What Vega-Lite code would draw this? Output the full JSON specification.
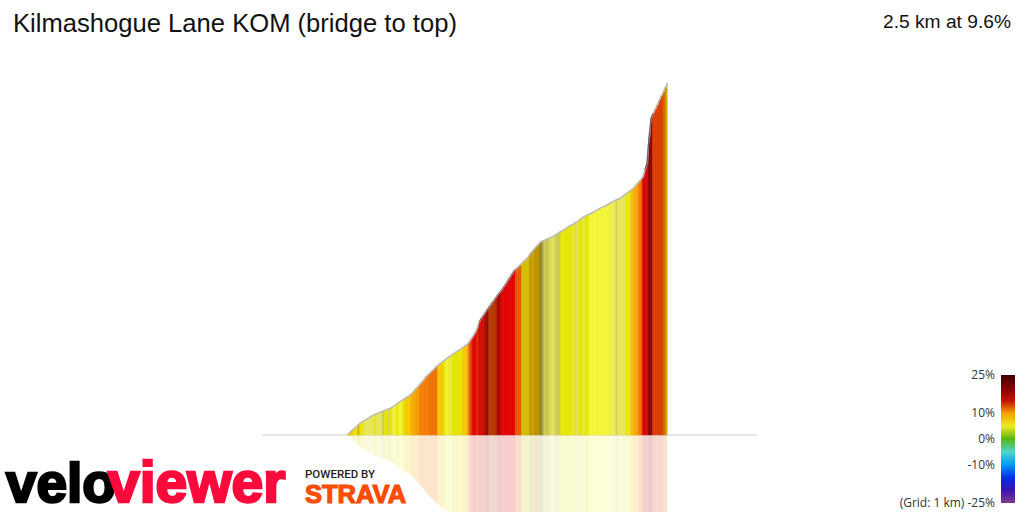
{
  "$schema": "https://vega.github.io/schema/vega-lite/v6.json",
  "width": 1024,
  "height": 512,
  "padding": 0,
  "autosize": {"type": "none"},
  "background": "white",
  "view": {"stroke": null},
  "datasets": {
    "profile": [
      {"d":0,"d2":16,"e":0.6,"g":8.5},{"d":16,"d2":32,"e":1.9,"g":8.5},{"d":32,"d2":48,"e":3.1,"g":8.5},{"d":48,"d2":64,"e":4.4,"g":5.5},{"d":64,"d2":80,"e":5.6,"g":5.5},
      {"d":80,"d2":96,"e":6.9,"g":8},{"d":96,"d2":112,"e":8.2,"g":5.5},{"d":112,"d2":128,"e":9.0,"g":5.5},{"d":128,"d2":144,"e":9.9,"g":3.5},{"d":144,"d2":160,"e":10.7,"g":3.5},
      {"d":160,"d2":176,"e":11.5,"g":3.5},{"d":176,"d2":192,"e":12.4,"g":3.5},{"d":192,"d2":208,"e":13.2,"g":3.5},{"d":208,"d2":224,"e":13.9,"g":5.5},{"d":224,"d2":240,"e":14.4,"g":3.5},
      {"d":240,"d2":256,"e":15,"g":3.5},{"d":256,"d2":272,"e":15.6,"g":3.5},{"d":272,"d2":288,"e":16.1,"g":2.8},{"d":288,"d2":304,"e":16.7,"g":5.5},{"d":304,"d2":320,"e":17.3,"g":5.5},
      {"d":320,"d2":336,"e":17.8,"g":3},{"d":336,"d2":352,"e":18.4,"g":5.5},{"d":352,"d2":368,"e":19.3,"g":4},{"d":368,"d2":384,"e":20.1,"g":4.7},{"d":384,"d2":400,"e":21.4,"g":5.5},
      {"d":400,"d2":416,"e":22.4,"g":4.7},{"d":416,"d2":432,"e":23.3,"g":4.7},{"d":432,"d2":448,"e":24.1,"g":5.5},{"d":448,"d2":464,"e":25,"g":8.5},{"d":464,"d2":480,"e":25.9,"g":8.5},
      {"d":480,"d2":496,"e":26.8,"g":8.5},{"d":496,"d2":512,"e":28,"g":9.5},{"d":512,"d2":528,"e":29.6,"g":9.5},{"d":528,"d2":544,"e":31.2,"g":10},{"d":544,"d2":560,"e":32.7,"g":10},
      {"d":560,"d2":576,"e":34.3,"g":11},{"d":576,"d2":592,"e":35.9,"g":11},{"d":592,"d2":608,"e":37.4,"g":11},{"d":608,"d2":624,"e":39.5,"g":11},{"d":624,"d2":640,"e":40.8,"g":11},
      {"d":640,"d2":656,"e":42.2,"g":11.3},{"d":656,"d2":672,"e":43.5,"g":11.3},{"d":672,"d2":688,"e":44.9,"g":11.3},{"d":688,"d2":704,"e":46.3,"g":11.3},{"d":704,"d2":720,"e":47.5,"g":8.5},
      {"d":720,"d2":736,"e":48.6,"g":8.5},{"d":736,"d2":752,"e":49.7,"g":8.5},{"d":752,"d2":768,"e":50.7,"g":5.5},{"d":768,"d2":784,"e":51.8,"g":4.5},{"d":784,"d2":800,"e":52.9,"g":5},
      {"d":800,"d2":816,"e":53.7,"g":3.5},{"d":816,"d2":832,"e":54.8,"g":5.5},{"d":832,"d2":848,"e":55.7,"g":5.5},{"d":848,"d2":864,"e":56.7,"g":5.5},{"d":864,"d2":880,"e":57.6,"g":5.5},
      {"d":880,"d2":896,"e":58.5,"g":5.5},{"d":896,"d2":912,"e":59.5,"g":8.5},{"d":912,"d2":928,"e":60.5,"g":8.5},{"d":928,"d2":944,"e":61.4,"g":9},{"d":944,"d2":960,"e":62.9,"g":11.5},
      {"d":960,"d2":976,"e":65,"g":13},{"d":976,"d2":992,"e":67,"g":14},{"d":992,"d2":1008,"e":69.4,"g":14},{"d":1008,"d2":1024,"e":72.4,"g":13.5},{"d":1024,"d2":1040,"e":76.9,"g":14.5},
      {"d":1040,"d2":1056,"e":79.3,"g":14},{"d":1056,"d2":1072,"e":81.3,"g":15},{"d":1072,"d2":1088,"e":83.3,"g":17},{"d":1088,"d2":1104,"e":85.4,"g":18},{"d":1104,"d2":1120,"e":87.4,"g":16},
      {"d":1120,"d2":1136,"e":89.4,"g":16},{"d":1136,"d2":1152,"e":91.2,"g":16},{"d":1152,"d2":1168,"e":93.2,"g":15.5},{"d":1168,"d2":1184,"e":95.2,"g":17},{"d":1184,"d2":1200,"e":96.9,"g":17},
      {"d":1200,"d2":1216,"e":98.6,"g":14},{"d":1216,"d2":1232,"e":100.7,"g":14},{"d":1232,"d2":1248,"e":102.7,"g":14},{"d":1248,"d2":1264,"e":105,"g":14},{"d":1264,"d2":1280,"e":107.2,"g":14},
      {"d":1280,"d2":1296,"e":109.4,"g":14},{"d":1296,"d2":1312,"e":111.6,"g":14},{"d":1312,"d2":1328,"e":112.9,"g":12},{"d":1328,"d2":1344,"e":114.3,"g":12},{"d":1344,"d2":1360,"e":115.6,"g":12},
      {"d":1360,"d2":1376,"e":117,"g":6.5},{"d":1376,"d2":1392,"e":118.4,"g":6.5},{"d":1392,"d2":1408,"e":119.7,"g":6.5},{"d":1408,"d2":1424,"e":121.1,"g":6.5},{"d":1424,"d2":1440,"e":123.5,"g":7.5},
      {"d":1440,"d2":1456,"e":125,"g":7},{"d":1456,"d2":1472,"e":126.5,"g":7.5},{"d":1472,"d2":1488,"e":128.2,"g":7.5},{"d":1488,"d2":1504,"e":129.7,"g":7.5},{"d":1504,"d2":1520,"e":131.3,"g":1.5},
      {"d":1520,"d2":1536,"e":132,"g":2.2},{"d":1536,"d2":1552,"e":132.5,"g":2.8},{"d":1552,"d2":1568,"e":133.2,"g":2.5},{"d":1568,"d2":1584,"e":133.8,"g":3},{"d":1584,"d2":1600,"e":134.4,"g":3.3},
      {"d":1600,"d2":1616,"e":135,"g":3.5},{"d":1616,"d2":1632,"e":135.8,"g":3},{"d":1632,"d2":1648,"e":136.7,"g":2.8},{"d":1648,"d2":1664,"e":137.6,"g":2.8},{"d":1664,"d2":1680,"e":138.4,"g":5.5},
      {"d":1680,"d2":1696,"e":139.3,"g":5.2},{"d":1696,"d2":1712,"e":140.1,"g":5.5},{"d":1712,"d2":1728,"e":141.1,"g":5.5},{"d":1728,"d2":1744,"e":141.9,"g":5.5},{"d":1744,"d2":1760,"e":142.7,"g":5.5},
      {"d":1760,"d2":1776,"e":143.5,"g":5.2},{"d":1776,"d2":1792,"e":144.4,"g":3.2},{"d":1792,"d2":1808,"e":145.2,"g":3.5},{"d":1808,"d2":1824,"e":146.1,"g":5.5},{"d":1824,"d2":1840,"e":147.3,"g":5.5},
      {"d":1840,"d2":1856,"e":148.3,"g":3.5},{"d":1856,"d2":1872,"e":149,"g":5.5},{"d":1872,"d2":1888,"e":149.7,"g":5.5},{"d":1888,"d2":1904,"e":150.3,"g":4.5},{"d":1904,"d2":1920,"e":151,"g":4.5},
      {"d":1920,"d2":1936,"e":151.7,"g":4.5},{"d":1936,"d2":1952,"e":152.6,"g":4.5},{"d":1952,"d2":1968,"e":153.3,"g":4.5},{"d":1968,"d2":1984,"e":154.1,"g":4.5},{"d":1984,"d2":2000,"e":154.8,"g":4.5},
      {"d":2000,"d2":2016,"e":155.4,"g":4.5},{"d":2016,"d2":2032,"e":156.1,"g":4.5},{"d":2032,"d2":2048,"e":156.8,"g":4.5},{"d":2048,"d2":2064,"e":157.8,"g":3.7},{"d":2064,"d2":2080,"e":158.5,"g":4.2},
      {"d":2080,"d2":2096,"e":159.2,"g":3.7},{"d":2096,"d2":2112,"e":159.9,"g":3},{"d":2112,"d2":2128,"e":160.5,"g":3.6},{"d":2128,"d2":2144,"e":161.2,"g":3.6},{"d":2144,"d2":2160,"e":162.2,"g":3.6},
      {"d":2160,"d2":2176,"e":163.3,"g":3.6},{"d":2176,"d2":2192,"e":164.4,"g":5.5},{"d":2192,"d2":2208,"e":165.3,"g":5},{"d":2208,"d2":2224,"e":166.5,"g":8.5},{"d":2224,"d2":2240,"e":167.5,"g":9},
      {"d":2240,"d2":2256,"e":168.8,"g":9.5},{"d":2256,"d2":2272,"e":170.5,"g":10},{"d":2272,"d2":2288,"e":172.1,"g":11},{"d":2288,"d2":2304,"e":173.8,"g":11.5},{"d":2304,"d2":2320,"e":175.5,"g":14},
      {"d":2320,"d2":2336,"e":180.3,"g":14},{"d":2336,"d2":2352,"e":185,"g":15},{"d":2352,"d2":2368,"e":202.7,"g":20},{"d":2368,"d2":2384,"e":215.6,"g":19},{"d":2384,"d2":2400,"e":218.7,"g":13},
      {"d":2400,"d2":2416,"e":221.6,"g":13},{"d":2416,"d2":2432,"e":224.5,"g":13},{"d":2432,"d2":2448,"e":227.7,"g":13},{"d":2448,"d2":2464,"e":230.6,"g":13},{"d":2464,"d2":2480,"e":233.3,"g":12},
      {"d":2480,"d2":2496,"e":236.5,"g":7.5},{"d":2496,"d2":2500,"e":239.5,"g":5.5}
    ]
  },
  "resolve": {"scale": {"y": "independent"}, "axis": {"y": "independent"}},
  "layer": [
    {
      "data": {"name": "profile"},
      "mark": {"type": "bar", "binSpacing": 0, "opacity": 0.2, "clip": true},
      "encoding": {
        "x": {"field": "d", "bin": {"binned": true}, "type": "quantitative", "axis": null, "scale": {"domain": [-2710.9, 5289.1], "nice": false, "zero": false}},
        "x2": {"field": "d2"},
        "y": {"field": "e", "type": "quantitative", "axis": null, "scale": {"domain": [-295.9, 52.4], "reverse": true, "nice": false, "zero": false}},
        "color": {"field": "g", "type": "quantitative"}
      }
    },
    {
      "layer": [
        {
          "data": {"values": [{"from": -664, "to": 3203}]},
          "mark": {"type": "rule", "color": "#dddddd", "strokeWidth": 1.5},
          "encoding": {
            "x": {"field": "from", "type": "quantitative"},
            "x2": {"field": "to"},
            "y": {"datum": 0, "type": "quantitative", "axis": null, "scale": {"domain": [-52.4, 295.9], "nice": false, "zero": false}}
          }
        },
        {
          "data": {"name": "profile"},
          "mark": {"type": "bar", "binSpacing": 0, "strokeWidth": 0.6, "stroke": {"expr": "scale('color', datum.g)"}},
          "encoding": {
            "x": {"field": "d", "bin": {"binned": true}, "type": "quantitative"},
            "x2": {"field": "d2"},
            "y": {"field": "e", "type": "quantitative"},
            "color": {
              "field": "g",
              "type": "quantitative",
              "scale": {
                "domain": [-25, -20, -16, -11, -7.5, -3, -0.5, 1.5, 2.5, 3.5, 4.5, 5.5, 6.5, 7.5, 8.5, 10, 11, 12, 13, 14, 15, 16, 17, 19, 25],
                "range": ["#7d3a8c", "#3c14b4", "#0000e0", "#0078e8", "#00e6f0", "#64c8b4", "#10c820", "#85852f", "#c4c050", "#e6e65a", "#f4f535", "#e6e600", "#d2bc00", "#c09000", "#f5c800", "#f5a000", "#f57c00", "#e25a00", "#dc3c00", "#e00000", "#c81000", "#b43c00", "#a80a00", "#900000", "#3c0000"]
              },
              "legend": {
                "type": "gradient",
                "orient": "none",
                "legendX": 1001,
                "legendY": 375,
                "title": null,
                "direction": "vertical",
                "gradientLength": 128,
                "gradientThickness": 14,
                "gradientStrokeWidth": 0,
                "values": [-25, -10, 0, 10, 25],
                "labelExpr": "datum.value == -25 ? '(Grid: 1 km) -25%' : datum.value + '%'",
                "labelOffset": -20,
                "labelFont": "Open Sans",
                "labelFontSize": 12,
                "labelColor": "#333333",
                "labelOverlap": false,
                "encode": {
                  "gradient": {"update": {"opacity": {"value": 1}}},
                  "labels": {"update": {"align": {"value": "right"}, "baseline": {"value": "middle"}}}
                }
              }
            }
          }
        },
        {
          "data": {"name": "profile"},
          "mark": {"type": "line", "color": "#bbbbbb", "strokeWidth": 1.5, "xOffset": 1},
          "encoding": {
            "x": {"field": "d", "type": "quantitative"},
            "y": {"field": "e", "type": "quantitative"}
          }
        },
        {
          "data": {"name": "profile"},
          "transform": [{"filter": "datum.d >= 1024 && datum.d <= 1312"}],
          "mark": {"type": "line", "color": "#777777", "strokeWidth": 1, "xOffset": 1},
          "encoding": {
            "x": {"field": "d", "type": "quantitative"},
            "y": {"field": "e", "type": "quantitative"}
          }
        },
        {
          "data": {"name": "profile"},
          "transform": [{"filter": "datum.d >= 2320 && datum.d <= 2384"}],
          "mark": {"type": "line", "color": "#666666", "strokeWidth": 1.2, "xOffset": 1},
          "encoding": {
            "x": {"field": "d", "type": "quantitative"},
            "y": {"field": "e", "type": "quantitative"}
          }
        },
        {
          "data": {"values": [{"label": "Kilmashogue Lane KOM (bridge to top)"}]},
          "mark": {"type": "text", "align": "left", "baseline": "alphabetic", "font": "Liberation Sans", "fontSize": 25.6, "color": "#111111"},
          "encoding": {
            "x": {"datum": -2609},
            "y": {"datum": 274.1},
            "text": {"field": "label"}
          }
        },
        {
          "data": {"values": [{"label": "2.5 km at 9.6%"}]},
          "mark": {"type": "text", "align": "right", "baseline": "alphabetic", "font": "Liberation Sans", "fontSize": 19.2, "color": "#111111"},
          "encoding": {
            "x": {"datum": 5187.5},
            "y": {"datum": 276.9},
            "text": {"field": "label"}
          }
        },
        {
          "data": {"values": [{"label": "velo"}]},
          "mark": {"type": "text", "align": "left", "baseline": "alphabetic", "font": "Liberation Sans", "fontWeight": "bold", "fontSize": 55, "color": "#000000", "stroke": "#000000", "strokeWidth": 2.5},
          "encoding": {
            "x": {"datum": -2665},
            "y": {"datum": -45.6},
            "text": {"field": "label"}
          }
        },
        {
          "data": {"values": [{"label": "viewer"}]},
          "mark": {"type": "text", "align": "left", "baseline": "alphabetic", "font": "Liberation Sans", "fontWeight": "bold", "fontSize": 57, "color": "#fc0a3c", "stroke": "#fc0a3c", "strokeWidth": 2.5},
          "encoding": {
            "x": {"datum": -1867},
            "y": {"datum": -45.6},
            "text": {"field": "label"}
          }
        },
        {
          "data": {"values": [{"label": "POWERED BY"}]},
          "mark": {"type": "text", "align": "left", "baseline": "alphabetic", "font": "Roboto", "fontWeight": 500, "fontSize": 11.5, "color": "#222222"},
          "encoding": {
            "x": {"datum": -328},
            "y": {"datum": -29.3},
            "text": {"field": "label"}
          }
        },
        {
          "data": {"values": [{"label": "STRAVA"}]},
          "mark": {"type": "text", "align": "left", "baseline": "alphabetic", "font": "Liberation Sans", "fontWeight": "bold", "fontSize": 25.5, "color": "#fc4c02", "stroke": "#fc4c02", "strokeWidth": 1.2},
          "encoding": {
            "x": {"datum": -328},
            "y": {"datum": -46.3},
            "text": {"field": "label"}
          }
        }
      ]
    }
  ]
}
